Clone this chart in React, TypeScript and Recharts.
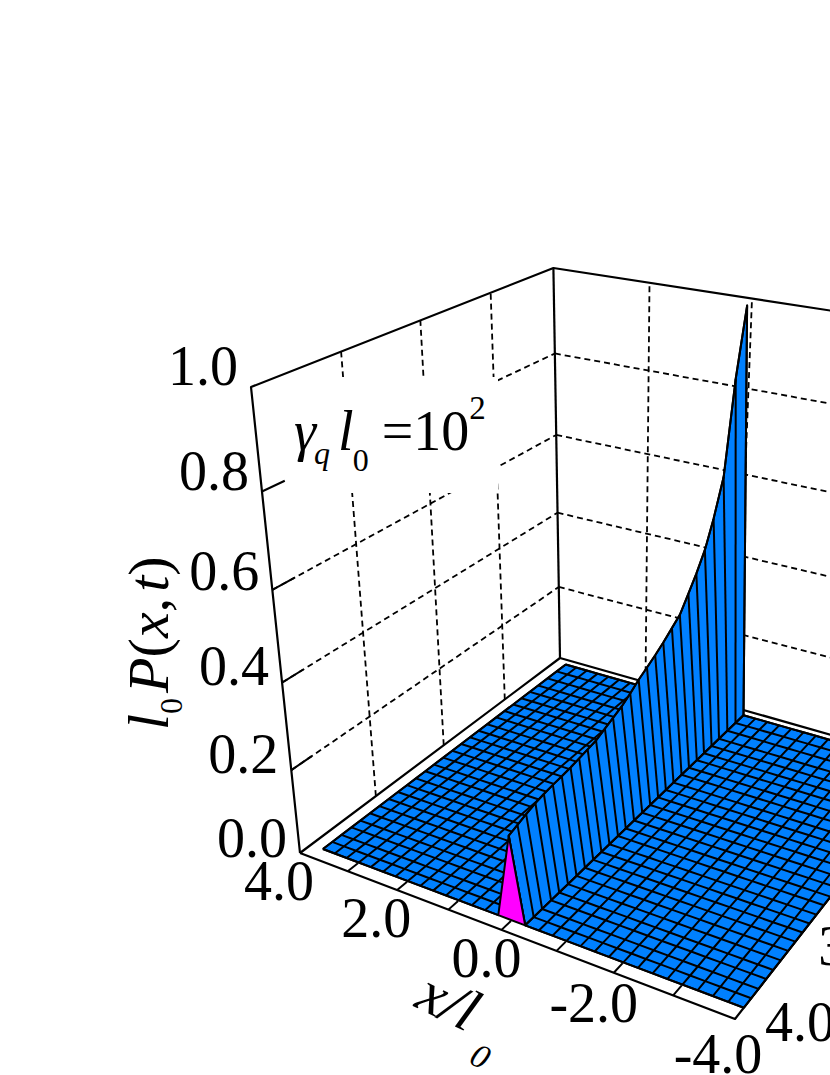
import { ComposedChart, Line, XAxis, YAxis } from "recharts";

// surface grid
const xGrid = [3.75, 3.5, 3.25, 3, 2.75, 2.5, 2.25, 2, 1.75, 1.5, 1.25, 1, 0.75, 0.5, 0.25, 0, -0.25, -0.5, -0.75, -1, -1.25, -1.5, -1.75, -2, -2.25, -2.5, -2.75, -3, -3.25, -3.5, -3.75, -4];
const tGrid = [3.86, 3.74, 3.62, 3.49, 3.37, 3.24, 3.11, 2.98, 2.85, 2.72, 2.59, 2.45, 2.32, 2.18, 2.04, 1.9, 1.76, 1.62, 1.48, 1.33, 1.19, 1.04, 0.9, 0.75, 0.6, 0.43, 0.26, 0.09];
// l0 P(0, t) along the ridge, same order as tGrid
const ridge = [0.196, 0.203, 0.21, 0.217, 0.221, 0.224, 0.226, 0.229, 0.233, 0.237, 0.241, 0.251, 0.26, 0.27, 0.284, 0.3, 0.313, 0.326, 0.341, 0.359, 0.376, 0.411, 0.445, 0.487, 0.547, 0.63, 0.84, 0.99];

const zTicks = [0, 0.2, 0.4, 0.6, 0.8, 1];
const zGridLines = [0.2, 0.4, 0.6, 0.8];
const xLabels = [4, 2, 0, -2, -4];
const xTickMarks = [3, 2, 1, 0, -1, -2, -3];
const tLabels = [4, 3];
const tWallLines = [3, 2, 1];
const xWallLines = [2, 0, -2];

const W = 830;
const H = 1075;
const BLUE = "#0080ff";
const FONT = "'Liberation Serif', serif";

// label nudges, same order as the tick lists
const zLabelDy = [4, 3, 2, 0, -1, -2];
const xLabelNudge = [[-21, 47], [-21, 47], [-15, 47], [-20, 49], [-17, 54]];
const tLabelDx = [30, 24];

// box corners on the page: floor A(x=4,t=4) B(x=-4,t=4) C(x=-4,t=0) D(x=4,t=0), tops of A and D
const [x0, y0] = [300, 853];
const [x1, y1] = [735, 1019];
const [x2, y2] = [934, 764];
const [x3, y3] = [560, 658];
const [topAx, topAy] = [251, 387];
const topDy = 268;

const sx = x0 - x1 + x2 - x3;
const sy = y0 - y1 + y2 - y3;
const den = (x1 - x2) * (y3 - y2) - (x3 - x2) * (y1 - y2);
const g = (sx * (y3 - y2) - (x3 - x2) * sy) / den;
const h = ((x1 - x2) * sy - sx * (y1 - y2)) / den;
const i = (topDy * (1 + h) - y3 * (1 + h) - topAy + y0) / (topAy - topDy);
const mzx = topAx * (1 + i) - x0;
const mzy = topAy * (1 + i) - y0;

function project(x: number, t: number, z: number) {
  const a = (4 - x) / 8;
  const b = (4 - t) / 4;
  const w = g * a + h * b + i * z + 1;
  return {
    px: ((x1 - x0 + g * x1) * a + (x3 - x0 + h * x3) * b + mzx * z + x0) / w,
    py: ((y1 - y0 + g * y1) * a + (y3 - y0 + h * y3) * b + mzy * z + y0) / w,
  };
}

function path(key: string, pts: { px: number; py: number }[], opts: any = {}) {
  return (
    <Line
      key={key}
      data={pts}
      dataKey="py"
      type="linear"
      dot={false}
      activeDot={false}
      legendType="none"
      isAnimationActive={false}
      stroke="#000"
      strokeWidth={2}
      strokeLinejoin="round"
      {...opts}
    />
  );
}

const dashed = { strokeDasharray: "6 4", strokeWidth: 1.8 };
const xLeft = xGrid.filter((x) => x > 0.1);
const xRight = xGrid.filter((x) => x < -0.1);
const t0 = tGrid[0];
const tN = tGrid[tGrid.length - 1];

function floor(key: string, xs: number[]) {
  const xa = xs[0];
  const xb = xs[xs.length - 1];
  const outline = [project(xa, t0, 0), project(xb, t0, 0), project(xb, tN, 0), project(xa, tN, 0), project(xa, t0, 0)];
  return [
    path(key + "-fill", outline, { className: "blue" }),
    ...xs.map((x) => path(`${key}-x${x}`, tGrid.map((t) => project(x, t, 0)))),
    ...tGrid.map((t) => path(`${key}-t${t}`, xs.map((x) => project(x, t, 0)))),
  ];
}

const apex = tGrid.map((t, k) => project(0, t, ridge[k]));
const ridgeBase = tGrid.map((t) => project(-0.25, t, 0));

export default function App() {
  return (
    <div style={{ position: "absolute", left: 0, top: 0, width: W, height: H, overflow: "hidden" }}>
      <style>{`
        .blue .recharts-line-curve { fill: ${BLUE}; }
        .pink .recharts-line-curve { fill: #ff00ff; }
        .blank .recharts-line-curve { fill: #fff; }
      `}</style>
      <ComposedChart width={W} height={H} margin={{ top: 0, right: 0, bottom: 0, left: 0 }}>
        <XAxis type="number" dataKey="px" domain={[0, W]} hide allowDataOverflow />
        <YAxis type="number" domain={[0, H]} reversed hide allowDataOverflow />

        {/* dashed walls */}
        {zGridLines.map((z) => path(`wl${z}`, [project(4, 4, z), project(4, 0, z)], dashed))}
        {zGridLines.map((z) => path(`wb${z}`, [project(4, 0, z), project(-4, 0, z)], dashed))}
        {tWallLines.map((t) => path(`vl${t}`, [project(4, t, 0), project(4, t, 1)], dashed))}
        {xWallLines.map((x) => path(`vb${x}`, [project(x, 0, 0), project(x, 0, 1)], dashed))}

        {/* white patch behind the annotation */}
        {path("blank", [{ px: 262, py: 377 }, { px: 498, py: 377 }, { px: 498, py: 493 }, { px: 262, py: 493 }, { px: 262, py: 377 }], { className: "blank", stroke: "none" })}

        {/* box frame */}
        {path("f-floor", [project(4, 4, 0), project(-4, 4, 0), project(-4, 0, 0), project(4, 0, 0), project(4, 4, 0)], { strokeWidth: 2.2 })}
        {path("f-a", [project(4, 4, 0), project(4, 4, 1), project(4, 0, 1), project(-4, 0, 1)], { strokeWidth: 2.2 })}
        {path("f-d", [project(4, 0, 0), project(4, 0, 1)], { strokeWidth: 2.2 })}
        {zTicks.slice(1, -1).map((z) => path(`zt${z}`, [project(4, 4, z), project(4, 3.75, z)]))}
        {xTickMarks.map((x) => path(`xt${x}`, [project(x, 4, 0), project(x, 3.87, 0)]))}

        {floor("left", xLeft)}

        {/* ridge */}
        {path("ridge-fill", [...apex, ...[...ridgeBase].reverse(), apex[0]], { className: "blue" })}
        {tGrid.map((t, k) => path(`stripe${t}`, [apex[k], ridgeBase[k]]))}
        {path("ridge-top", apex, { strokeLinecap: "round" })}
        {path("front", [project(0.25, t0, 0), apex[0], project(-0.25, t0, 0), project(0.25, t0, 0)], { className: "pink" })}

        {floor("right", xRight)}
      </ComposedChart>

      {/* text sits above the chart so the white patch can't cover it */}
      <svg width={W} height={H} style={{ position: "absolute", left: 0, top: 0 }} fontFamily={FONT}>
        {zTicks.map((z, k) => {
          const p = project(4, 4, z);
          return (
            <text key={z} x={p.px - 13} y={p.py + zLabelDy[k]} textAnchor="end" fontSize={56}>
              {z.toFixed(1)}
            </text>
          );
        })}
        {xLabels.map((x, k) => {
          const p = project(x, 4, 0);
          return (
            <text key={x} x={p.px + xLabelNudge[k][0]} y={p.py + xLabelNudge[k][1]} textAnchor="middle" fontSize={56}>
              {x.toFixed(1)}
            </text>
          );
        })}
        {tLabels.map((t, k) => {
          const p = project(-4, t, 0);
          return (
            <text key={t} x={p.px + tLabelDx[k]} y={p.py + 22} fontSize={56}>
              {t.toFixed(1)}
            </text>
          );
        })}

        <text transform="rotate(-90 168 730)" x={168} y={730} fontSize={58} fontStyle="italic">
          l<tspan fontSize={32} dy={14} fontStyle="normal">0</tspan>
          <tspan dy={-14} dx={5}>P</tspan>
          <tspan fontStyle="normal">(</tspan>x<tspan fontStyle="normal">,</tspan>
          <tspan dx={6}>t</tspan>
          <tspan fontStyle="normal">)</tspan>
        </text>
        <text transform="rotate(26 413 1006)" x={413} y={1006} fontSize={60} fontStyle="italic">
          x/l<tspan fontSize={34} dy={27} dx={14}>0</tspan>
        </text>
        <text x={294} y={450} fontSize={56}>
          <tspan fontStyle="italic">γ</tspan>
          <tspan fontStyle="italic" fontSize={32} dy={14} dx={-2}>q</tspan>
          <tspan fontStyle="italic" dy={-14} dx={8}>l</tspan>
          <tspan fontSize={32} dy={21} dx={-1}>0</tspan>
          <tspan dy={-21} dx={13}>=10</tspan>
          <tspan fontSize={33} dy={-31}>2</tspan>
        </text>
      </svg>
    </div>
  );
}
